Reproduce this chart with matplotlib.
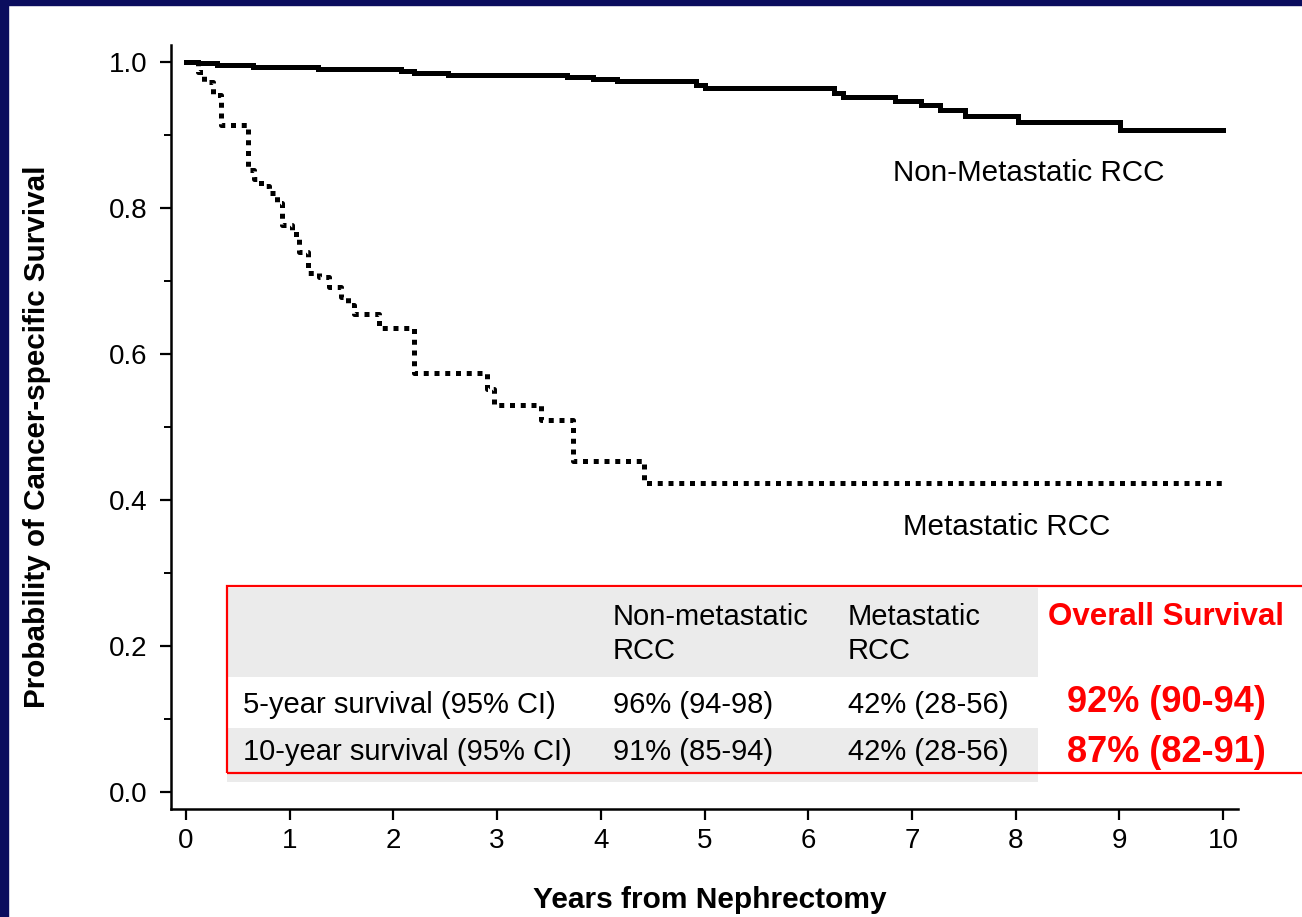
import matplotlib
matplotlib.use("Agg")
import matplotlib.pyplot as plt
from matplotlib.patches import Rectangle
from matplotlib.ticker import MultipleLocator

plt.rcParams['font.family'] = ['Liberation Sans', 'DejaVu Sans']

# Kaplan-Meier step estimates (years, survival)
non_met_t = [0.0, 0.12, 0.30, 0.65, 1.27, 2.07, 2.20, 2.53, 3.67, 3.92, 4.16, 4.92, 5.00,
             6.25, 6.34, 6.84, 7.09, 7.27, 7.51, 8.02, 9.01, 10.0]
non_met_s = [1.0, 0.998, 0.996, 0.993, 0.990, 0.987, 0.985, 0.982, 0.979, 0.977, 0.974, 0.968, 0.964,
             0.958, 0.952, 0.946, 0.941, 0.934, 0.926, 0.918, 0.907, 0.907]

met_t = [0.0, 0.12, 0.17, 0.26, 0.34, 0.60, 0.66, 0.72, 0.80, 0.88, 0.93, 1.02, 1.09, 1.18,
         1.28, 1.38, 1.49, 1.56, 1.62, 1.86, 2.20, 2.90, 2.97, 3.42, 3.73, 4.42, 10.0]
met_s = [1.0, 0.986, 0.973, 0.955, 0.914, 0.852, 0.840, 0.830, 0.820, 0.807, 0.777, 0.765, 0.740, 0.711,
         0.705, 0.692, 0.678, 0.667, 0.655, 0.636, 0.574, 0.552, 0.530, 0.510, 0.453, 0.423, 0.423]

# summary table
table_header = ["", "Non-metastatic\nRCC", "Metastatic\nRCC"]
table_rows = [["5-year survival (95% CI)", "96% (94-98)", "42% (28-56)"],
              ["10-year survival (95% CI)", "91% (85-94)", "42% (28-56)"]]
overall_title = "Overall Survival"
overall_values = ["92% (90-94)", "87% (82-91)"]

W, H = 1302, 917
fig = plt.figure(figsize=(W / 100, H / 100), dpi=100)
fig.patch.set_facecolor('white')


def fx(x):
    return x / W


def fy(y):
    return 1 - y / H


# slide frame
navy = '#0b0d5e'
fig.add_artist(Rectangle((0, fy(5)), 1, 5 / H, transform=fig.transFigure, color=navy, zorder=0))
fig.add_artist(Rectangle((0, 0), 8 / W, 1, transform=fig.transFigure, color=navy, zorder=0))

ax = fig.add_axes([fx(171), fy(809), fx(1238) - fx(171), fy(45) - fy(809)])
ax.step(non_met_t, non_met_s, where='post', color='black', lw=3.6, solid_joinstyle='miter')
ax.step(met_t, met_s, where='post', color='black', lw=3.6, linestyle=(0, (1, 1.15)))

ax.set_xlim(-0.145, 10.145)
ax.set_ylim(-0.0233, 1.0233)
ax.set_xticks(range(0, 11))
ax.yaxis.set_major_locator(MultipleLocator(0.2))
ax.yaxis.set_minor_locator(MultipleLocator(0.1))
ax.set_yticklabels([f"{v:.1f}" for v in ax.get_yticks()])
for s in ['top', 'right']:
    ax.spines[s].set_visible(False)
for s in ['left', 'bottom']:
    ax.spines[s].set_linewidth(1.8)
ax.tick_params(axis='both', which='major', length=8, width=1.6, labelsize=20)
ax.tick_params(axis='y', which='major', pad=9)
ax.tick_params(axis='x', which='major', pad=6)
ax.tick_params(axis='y', which='minor', length=5, width=1.4)

ax.text(6.82, 0.848, "Non-Metastatic RCC", fontsize=21.3, va='center', ha='left')
ax.text(6.91, 0.363, "Metastatic RCC", fontsize=21.3, va='center', ha='left')

fig.text(fx(37), fy(437), "Probability of Cancer-specific Survival", rotation=90,
         fontsize=21.3, fontweight='bold', ha='center', va='center')
fig.text(fx(710), fy(900), "Years from Nephrectomy", fontsize=21.5, fontweight='bold',
         ha='center', va='center')

# table shading
gray = '#ebebeb'
fig.add_artist(Rectangle((fx(227), fy(677)), fx(1038) - fx(227), (677 - 588) / H,
                         transform=fig.transFigure, color=gray, lw=0, zorder=2))
fig.add_artist(Rectangle((fx(227), fy(782)), fx(1038) - fx(227), (782 - 728) / H,
                         transform=fig.transFigure, color=gray, lw=0, zorder=2))

col_x = [243, 613, 848]
fig.text(fx(col_x[1]), fy(634), table_header[1], fontsize=21, ha='left', va='center',
         linespacing=1.25, zorder=3)
fig.text(fx(col_x[2]), fy(634), table_header[2], fontsize=21, ha='left', va='center',
         linespacing=1.25, zorder=3)
for row, yc in zip(table_rows, [705, 752]):
    for cell, xc in zip(row, col_x):
        fig.text(fx(xc), fy(yc), cell, fontsize=21, ha='left', va='center', zorder=3)

red = '#ff0000'
fig.text(fx(1166), fy(617), overall_title, color=red, fontsize=22.5, fontweight='bold',
         ha='center', va='center', zorder=3)
for val, yc in zip(overall_values, [703, 752]):
    fig.text(fx(1166), fy(yc), val, color=red, fontsize=26, fontweight='bold',
             ha='center', va='center', zorder=3)

fig.add_artist(Rectangle((fx(227), fy(773)), fx(1320) - fx(227), (773 - 586) / H,
                         transform=fig.transFigure, fill=False, edgecolor=red, lw=1.6, zorder=4))

fig.savefig("out.png", dpi=100)
